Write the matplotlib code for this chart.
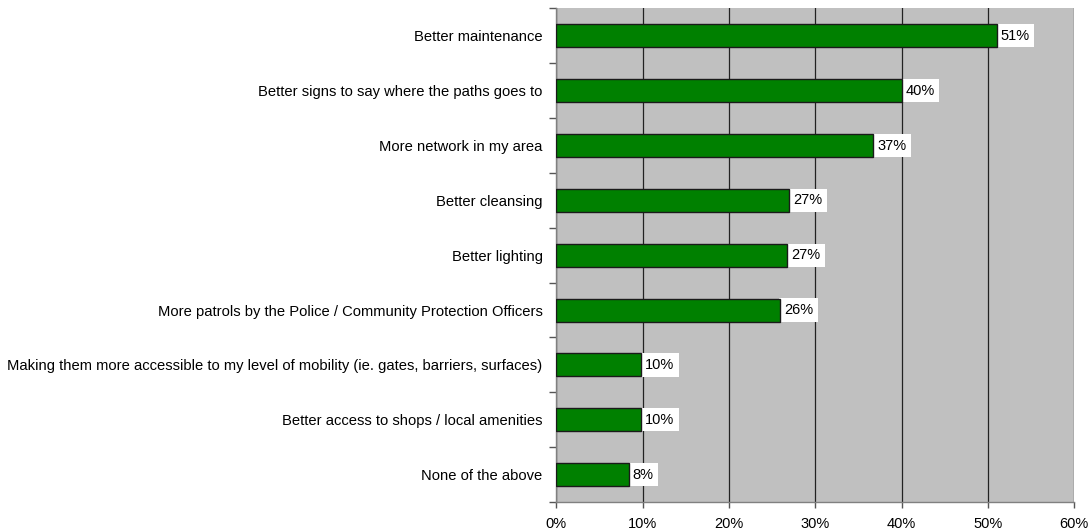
import matplotlib
matplotlib.use("Agg")
import matplotlib.pyplot as plt
import numpy as np

categories = [
    "Better maintenance",
    "Better signs to say where the paths goes to",
    "More network in my area",
    "Better cleansing",
    "Better lighting",
    "More patrols by the Police / Community Protection Officers",
    "Making them more accessible to my level of mobility (ie. gates, barriers, surfaces)",
    "Better access to shops / local amenities",
    "None of the above",
]
values = [51.0, 40.0, 36.7, 27.0, 26.7, 25.9, 9.8, 9.8, 8.4]
value_labels = ["51%", "40%", "37%", "27%", "27%", "26%", "10%", "10%", "8%"]
x_ticks = [0, 10, 20, 30, 40, 50, 60]
x_tick_labels = ["0%", "10%", "20%", "30%", "40%", "50%", "60%"]

plt.rcParams['font.family'] = ['Liberation Sans', 'DejaVu Sans']

fig = plt.figure(figsize=(10.91, 5.32), dpi=100)
ax = fig.add_axes([0.510, 0.0564, 0.4747, 0.9278])
ax.set_facecolor('#C0C0C0')

n = len(categories)
y = np.arange(n)
ax.barh(y, values, height=0.42, color='#008000', edgecolor='#1a1a1a', linewidth=1.0, zorder=3)

for yi, v, lab in zip(y, values, value_labels):
    ax.text(v + 0.45, yi, lab, va='center', ha='left', fontsize=10.5, color='black', zorder=2.5,
            bbox=dict(boxstyle='square,pad=0.32', facecolor='white', edgecolor='none'))

ax.set_xlim(0, 60)
ax.set_ylim(n - 0.5, -0.5)
ax.set_xticks(x_ticks)
ax.set_xticklabels(x_tick_labels, fontsize=10.5)
ax.xaxis.grid(True, color='#222222', linewidth=0.9, zorder=1)
ax.set_axisbelow(True)

ax.set_yticks(y)
ax.set_yticklabels(categories, fontsize=10.6)
ax.set_yticks(np.arange(-0.5, n, 1), minor=True)
ax.tick_params(axis='y', which='major', length=0, pad=10)
ax.tick_params(axis='y', which='minor', length=5, color='#555555', width=1)
ax.tick_params(axis='x', which='major', length=4, color='#555555', width=1, pad=7)

for s in ['top', 'right']:
    ax.spines[s].set_visible(False)
ax.spines['left'].set_color('#808080')
ax.spines['bottom'].set_color('#808080')
ax.spines['left'].set_linewidth(1)
ax.spines['bottom'].set_linewidth(1)

fig.savefig('out.png', dpi=100)
